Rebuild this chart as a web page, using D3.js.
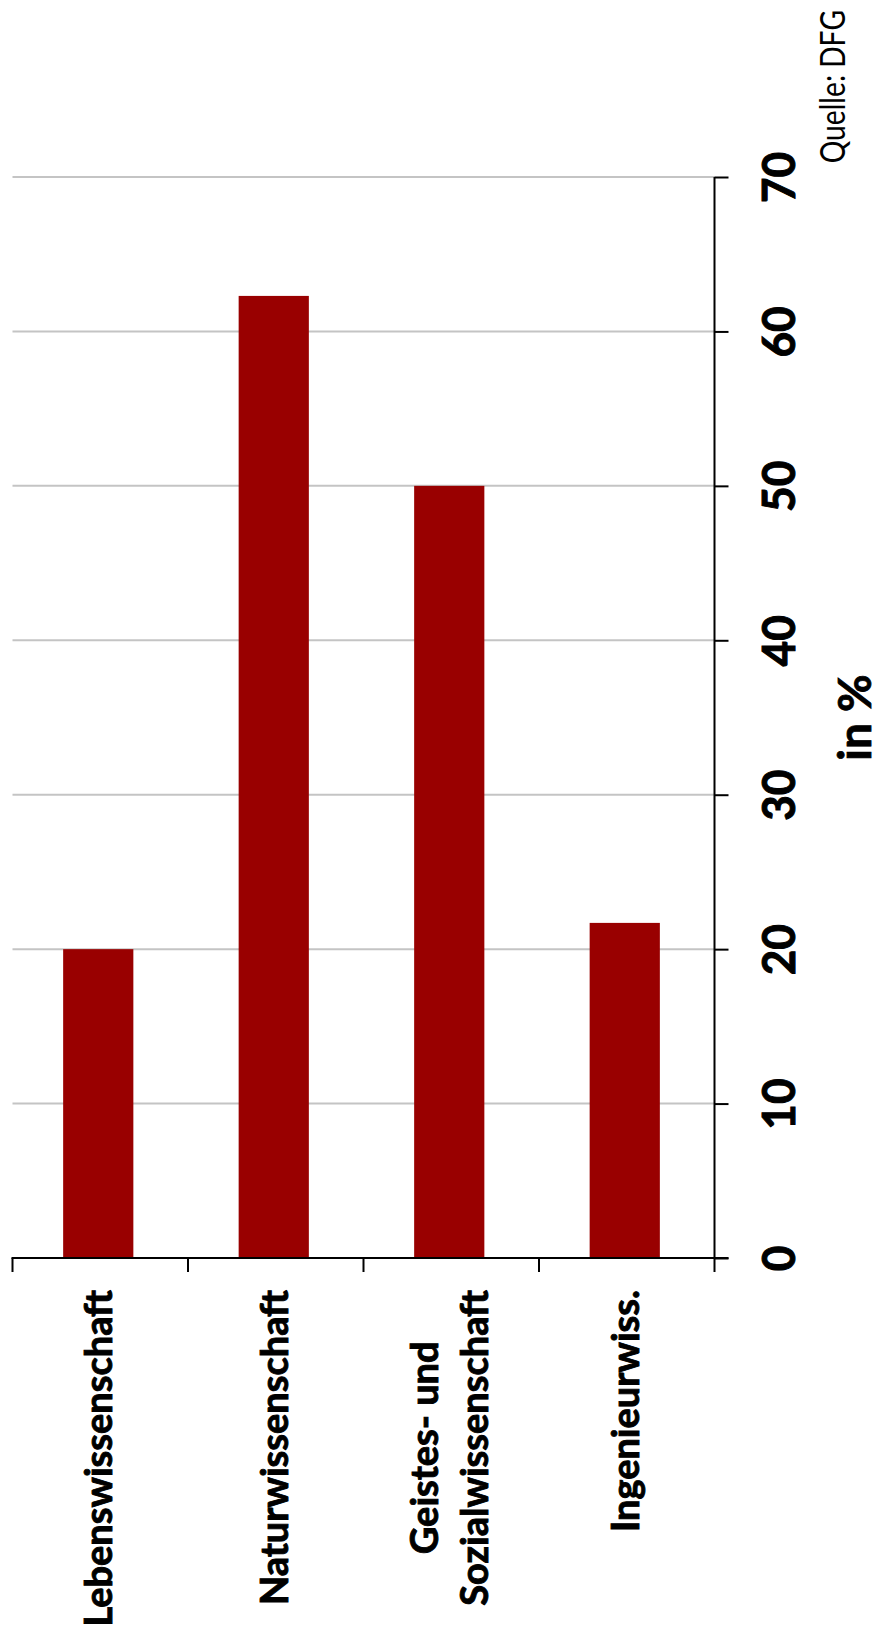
<!DOCTYPE html>
<html>
<head>
<meta charset="utf-8">
<script src="https://cdn.jsdelivr.net/npm/d3@7"></script>
<style>
  html, body { margin: 0; padding: 0; background: #fff; }
  svg { display: block; }
  text { font-family: Lato, "Open Sans", sans-serif; }
</style>
</head>
<body>
<svg id="chart" width="876" height="1634"></svg>
<script>
// Fields of study (a "\n" breaks a label onto two lines)
const categories = [
  "Lebenswissenschaft",
  "Naturwissenschaft",
  "Geistes- und\nSozialwissenschaft",
  "Ingenieurwiss."
];
// Share per field, in %
const values = [20.0, 62.3, 50.0, 21.7];
// Value axis ticks
const valueTicks = [0, 10, 20, 30, 40, 50, 60, 70];
const axisTitle = "in %";
const sourceNote = "Quelle: DFG";

const svg = d3.select("#chart");
const barColor = "#990000";

const plot = { left: 12.5, right: 714.5, top: 177, bottom: 1258 };

const x = d3.scaleBand()
  .domain(categories)
  .range([plot.left, plot.right])
  .paddingInner(0.6)
  .paddingOuter(0.3);

const y = d3.scaleLinear()
  .domain([0, 70])
  .range([plot.bottom, plot.top]);

// Horizontal grid lines
svg.append("g")
  .selectAll("line")
  .data(valueTicks.filter(t => t > 0))
  .join("line")
  .attr("x1", plot.left)
  .attr("x2", plot.right)
  .attr("y1", d => y(d))
  .attr("y2", d => y(d))
  .attr("stroke", "#c4c4c4")
  .attr("stroke-width", 2);

// Bars
svg.append("g")
  .selectAll("rect")
  .data(values)
  .join("rect")
  .attr("x", (d, i) => x(categories[i]) - 2)
  .attr("width", x.bandwidth())
  .attr("y", d => y(d))
  .attr("height", d => y(0) - y(d))
  .attr("fill", barColor);

// Value axis on the right
const yAxis = d3.axisRight(y)
  .tickValues(valueTicks)
  .tickSize(14)
  .tickFormat(d3.format("d"));

const gy = svg.append("g")
  .attr("transform", `translate(${plot.right},0)`)
  .call(yAxis);
gy.select(".domain").remove();
gy.selectAll(".tick line").attr("stroke", "#000").attr("stroke-width", 2);
gy.selectAll(".tick text").remove();
gy.selectAll(".tick")
  .append("text")
  .attr("transform", "translate(80,0) rotate(-90) scale(0.96,1)")
  .attr("text-anchor", "middle")
  .attr("fill", "#000")
  .attr("stroke", "#000")
  .attr("stroke-width", 1)
  .attr("font-size", 46)
  .attr("font-weight", 700)
  .text(d => d3.format("d")(d));

// Axis lines
svg.append("line")
  .attr("x1", plot.right).attr("x2", plot.right)
  .attr("y1", plot.top).attr("y2", plot.bottom)
  .attr("stroke", "#000").attr("stroke-width", 2);
svg.append("line")
  .attr("x1", plot.left - 1).attr("x2", plot.right + 14)
  .attr("y1", plot.bottom).attr("y2", plot.bottom)
  .attr("stroke", "#000").attr("stroke-width", 2);

// Category separators below the baseline
const step = x.step();
const gap = step - x.bandwidth();
const bounds = categories.map(c => x(c) - gap / 2).concat([plot.right]);
svg.append("g")
  .selectAll("line")
  .data(bounds)
  .join("line")
  .attr("x1", d => d).attr("x2", d => d)
  .attr("y1", plot.bottom).attr("y2", plot.bottom + 14)
  .attr("stroke", "#000").attr("stroke-width", 2);

// Category labels, rotated, block ending just below the axis
const labelTop = 1290;
const lineGap = 50;
const catSize = 38;
const catG = svg.append("g");
categories.forEach(c => {
  const lines = c.split("\n");
  const cx = x(c) + x.bandwidth() / 2 - 2;
  const texts = lines.map((ln, i) => {
    const base = cx + 14 + (i - (lines.length - 1) / 2) * lineGap;
    return catG.append("text")
      .attr("font-size", catSize)
      .attr("font-weight", 700)
      .attr("fill", "#000")
      .attr("stroke", "#000")
      .attr("stroke-width", 0.9)
      .attr("text-anchor", "middle")
      .attr("data-base", base)
      .text(ln);
  });
  const longest = d3.max(texts, t => t.node().getComputedTextLength());
  const mid = labelTop + longest / 2;
  texts.forEach(t => {
    t.attr("transform", `translate(${t.attr("data-base")},${mid}) rotate(-90)`);
  });
});

// Axis title
svg.append("text")
  .attr("transform", `translate(871,${(plot.top + plot.bottom) / 2}) rotate(-90) scale(1.02,1)`)
  .attr("text-anchor", "middle")
  .attr("font-size", 45)
  .attr("font-weight", 700)
  .attr("fill", "#000")
  .attr("stroke", "#000")
  .attr("stroke-width", 0.8)
  .text(axisTitle);

// Source note
svg.append("text")
  .attr("transform", "translate(845,10) rotate(-90) scale(0.83,1)")
  .attr("text-anchor", "end")
  .attr("font-size", 34)
  .attr("font-weight", 400)
  .attr("fill", "#000")
  .text(sourceNote);
</script>
</body>
</html>
